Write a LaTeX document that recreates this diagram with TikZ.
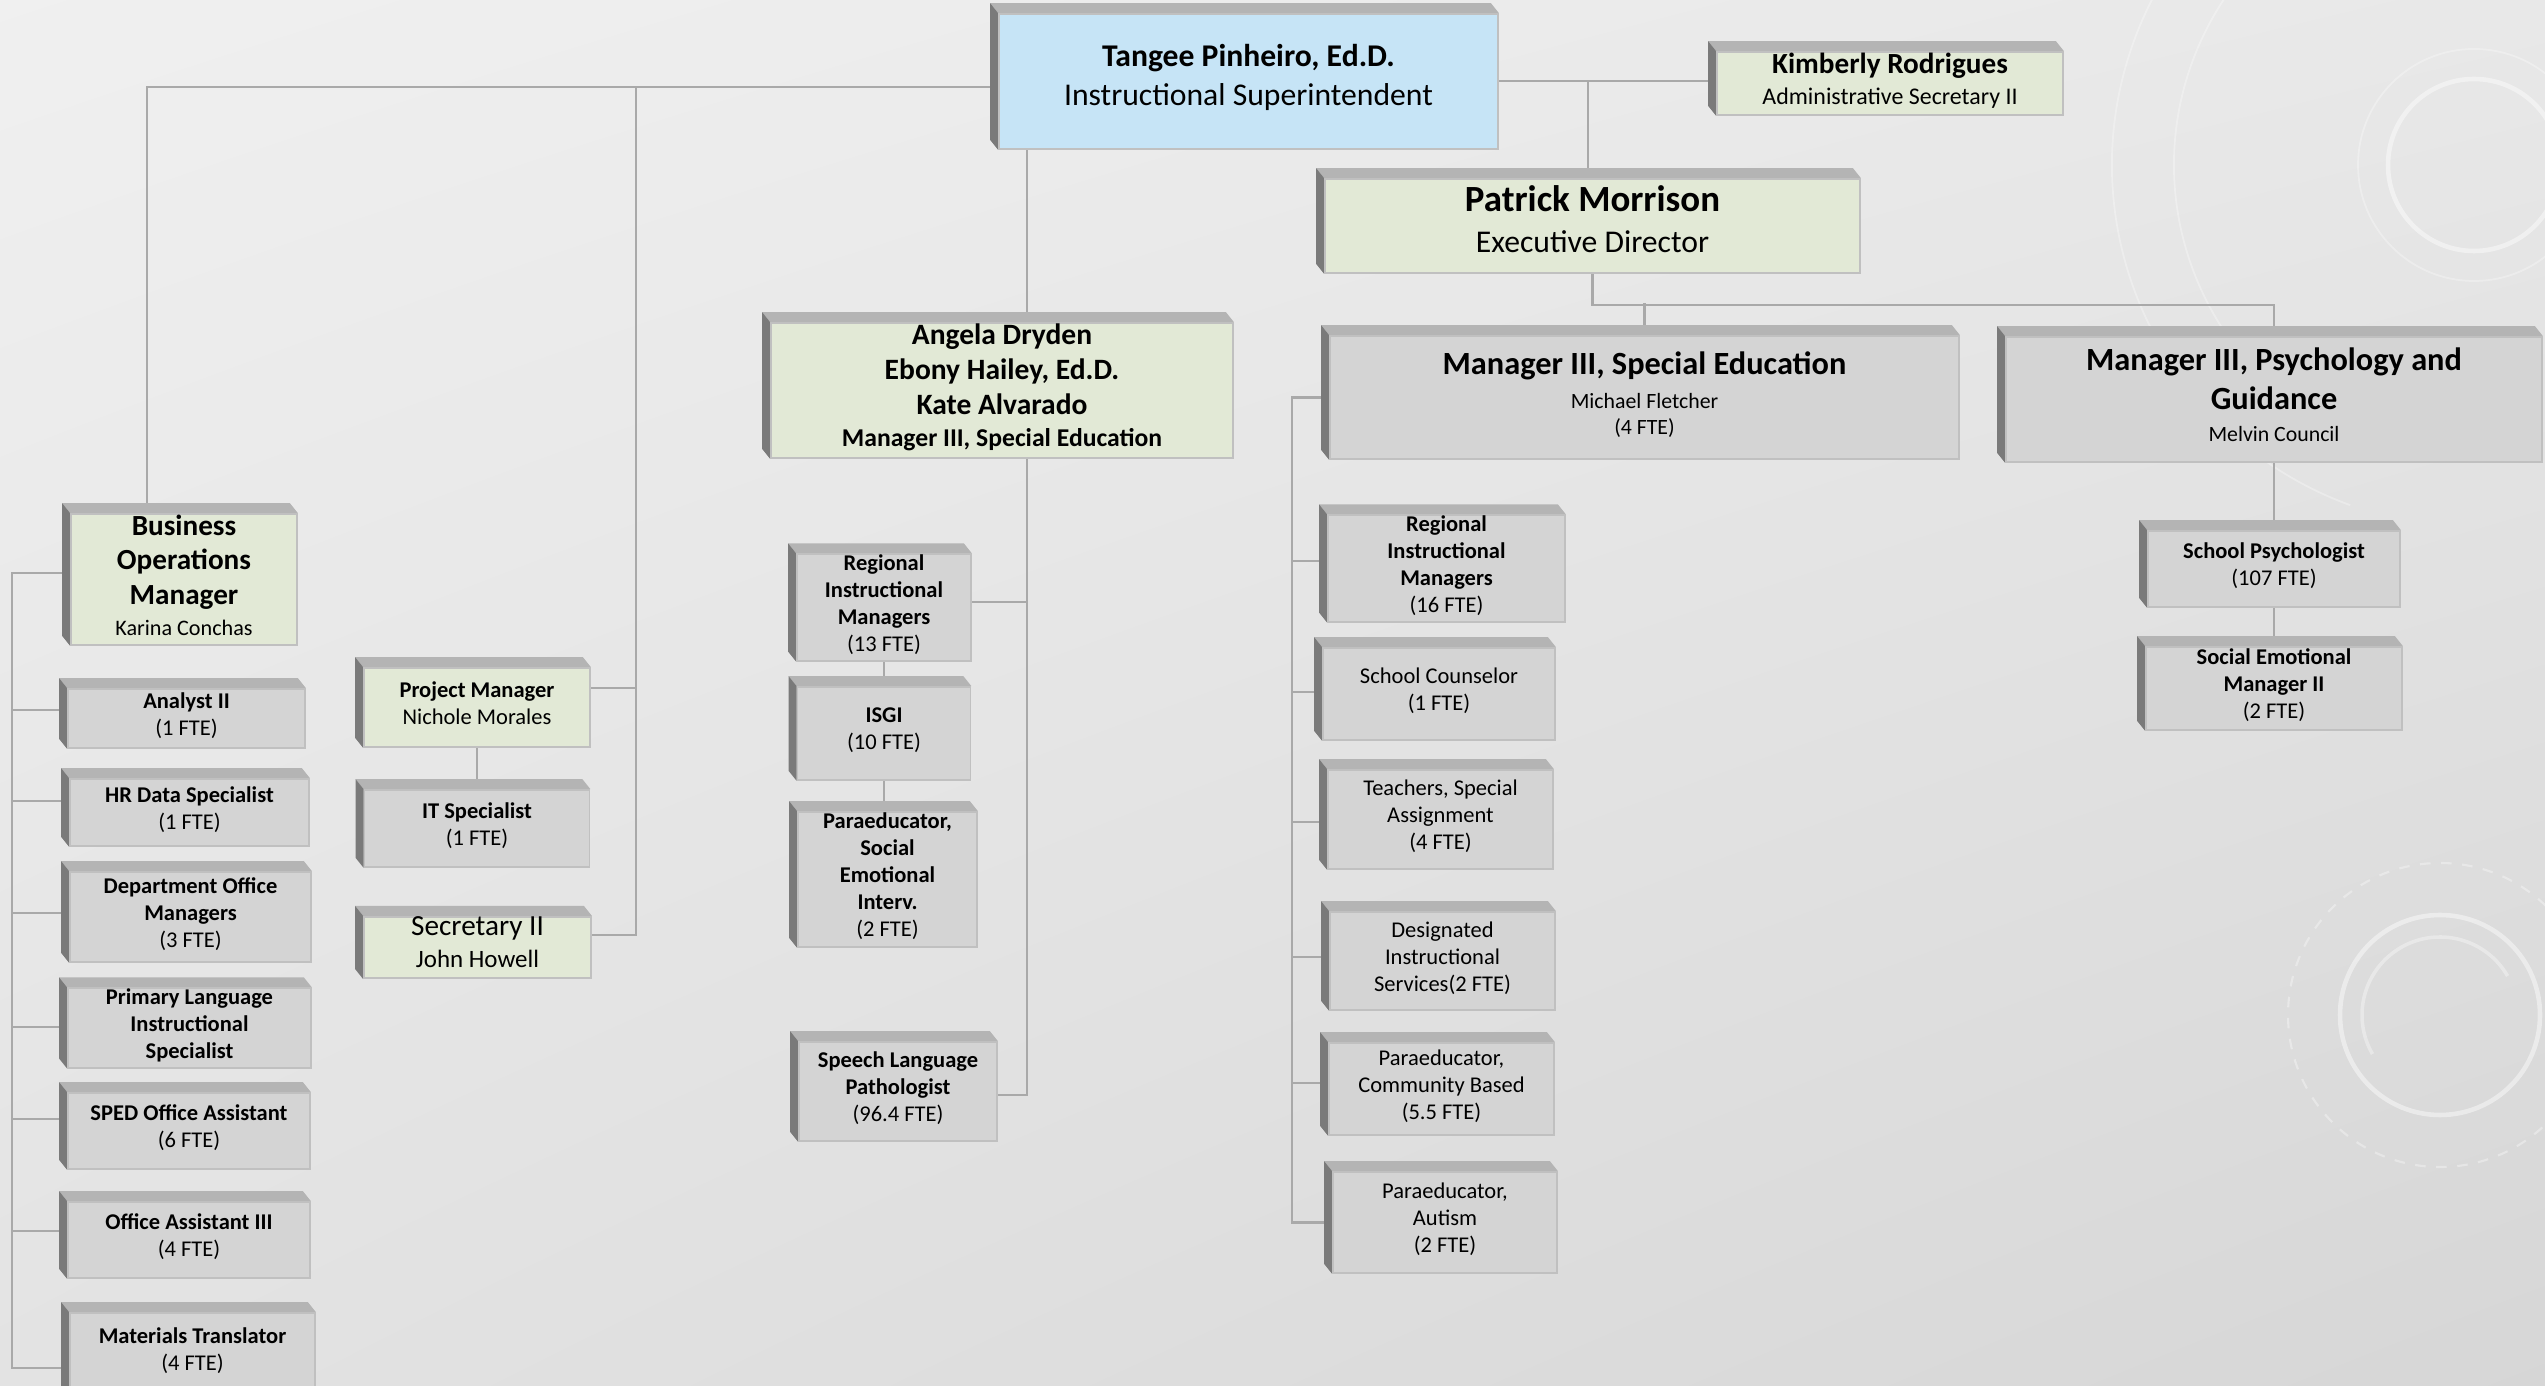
\documentclass[tikz,border=0pt]{standalone}
\usepackage{fontspec}
\setmainfont{Carlito}
\usetikzlibrary{positioning,shadings}

\definecolor{bluefront}{HTML}{C6E4F6}
\definecolor{greenfront}{HTML}{E2E9D6}
\definecolor{grayfront}{HTML}{D4D4D4}
\definecolor{frontline}{HTML}{C0C0C0}
\definecolor{topface}{HTML}{B4B4B4}
\definecolor{sideface}{HTML}{7A7A7A}
\definecolor{linkgray}{HTML}{A9A9A9}

\pgfdeclarelayer{bg}
\pgfdeclarelayer{background}
\pgfsetlayers{bg,background,main}

% header lines of the manager boxes
\newcommand{\hd}[1]{{\fontsize{9.2}{11}\selectfont\bfseries #1}}
\newcommand{\nmb}[1]{{\fontsize{8.4}{10}\selectfont\bfseries #1}}
\newcommand{\bob}[1]{{\fontsize{8.3}{9.8}\selectfont\bfseries #1}}

\tikzset{
  orgbox/.style={draw=frontline, line width=0.5pt, inner sep=0pt, align=center,
    execute at end node={\vrule width 0pt depth 0.42em\relax}},
  bluebox/.style={orgbox, fill=bluefront},
  greenbox/.style={orgbox, fill=greenfront},
  graybox/.style={orgbox, fill=grayfront},
  boxsize/.style 2 args={minimum width=#1*0.01cm, minimum height=#2*0.01cm},
  smalltext/.style={font=\fontsize{6.4}{7.7}\selectfont},
  link/.style={draw=linkgray, line width=0.6pt}
}

\begin{document}
\begin{tikzpicture}[x=0.01cm, y=-0.01cm]
\useasboundingbox (0,0) rectangle (2545,1386);

\begin{pgfonlayer}{bg}
\shade[upper left=black!6, upper right=black!9, lower left=black!11, lower right=black!16] (0,0) rectangle (2545,1386);
% faint rings on the right
\draw[white, opacity=.45, line width=1.3pt] (2474,165) circle[radius=86];
\draw[white, opacity=.3, line width=0.5pt] (2474,165) circle[radius=116];
\draw[white, opacity=.3, line width=0.5pt] (2474,165) ++(115:300) arc[start angle=115, end angle=245, radius=300];
\draw[white, opacity=.3, line width=0.5pt] (2474,165) ++(110:362) arc[start angle=110, end angle=250, radius=362];
\draw[white, opacity=.45, line width=1.3pt] (2440,1015) circle[radius=100];
\draw[white, opacity=.35, line width=1pt] (2440,1015) ++(150:78) arc[start angle=150, end angle=330, radius=78];
\draw[white, opacity=.35, line width=0.6pt, dashed] (2440,1015) circle[radius=152];
\end{pgfonlayer}

% top level
\node[bluebox, boxsize={499}{135}, font=\fontsize{9}{11.1}\selectfont] (tangee) at (1248.5,81.5)
  {\textbf{Tangee Pinheiro, Ed.D.}\\Instructional Superintendent};
\node[greenbox, boxsize={346}{63}, font=\fontsize{6.8}{8.8}\selectfont] (kim) at (1890,83.5)
  {{\fontsize{8.3}{8.8}\selectfont\bfseries Kimberly Rodrigues}\\Administrative Secretary II};
\node[greenbox, boxsize={535}{94}, font=\fontsize{9}{11.6}\selectfont] (patrick) at (1592.5,226)
  {{\fontsize{10.5}{11.6}\selectfont\bfseries Patrick Morrison}\\Executive Director};

% managers
\node[graybox, boxsize={629}{123}, font=\fontsize{6.2}{7.4}\selectfont] (mgrse) at (1644.5,397.5)
  {\hd{Manager III, Special Education}\\[2.3pt]Michael Fletcher\\(4 FTE)};
\node[graybox, boxsize={536}{125}, font=\fontsize{6.2}{9.2}\selectfont] (mgrpsy) at (2274,399.5)
  {\hd{Manager III, Psychology and}\\[1.9pt]\hd{Guidance}\\Melvin Council};
\node[greenbox, boxsize={462}{135}, font=\fontsize{7.3}{9.1}\selectfont] (angela) at (1002,390.5)
  {\nmb{Angela Dryden}\\[0.9pt]\nmb{Ebony Hailey, Ed.D.}\\[0.9pt]\nmb{Kate Alvarado}\\\textbf{Manager III, Special Education}};
\node[greenbox, boxsize={226}{131}, font=\fontsize{6.3}{8.8}\selectfont] (bom) at (184,579.5)
  {\bob{Business}\\[1pt]\bob{Operations}\\[1pt]\bob{Manager}\\Karina Conchas};

% business operations staff
\node[graybox, smalltext, boxsize={237}{59}] (analyst) at (186.5,718.5) {\textbf{Analyst II}\\(1 FTE)};
\node[graybox, smalltext, boxsize={239}{67}] (hrdata) at (189.5,812.5) {\textbf{HR Data Specialist}\\(1 FTE)};
\node[graybox, smalltext, boxsize={241}{90}] (deptoff) at (190.5,917) {\textbf{Department Office}\\\textbf{Managers}\\(3 FTE)};
\node[graybox, smalltext, boxsize={243}{78}] (primlang) at (189.5,1028) {\textbf{Primary Language}\\\textbf{Instructional}\\\textbf{Specialist}};
\node[graybox, smalltext, boxsize={242}{76}] (sped) at (189,1131) {\textbf{SPED Office Assistant}\\(6 FTE)};
\node[graybox, smalltext, boxsize={242}{76}] (offasst) at (189,1240) {\textbf{Office Assistant III}\\(4 FTE)};
\node[graybox, smalltext, boxsize={245}{82}] (matl) at (192.5,1354) {\textbf{Materials Translator}\\(4 FTE)};

\node[greenbox, smalltext, boxsize={226}{79}] (projmgr) at (477,707.5) {\textbf{Project Manager}\\Nichole Morales};
\node[graybox, smalltext, boxsize={225}{77}] (itspec) at (477,828.5) {\textbf{IT Specialist}\\(1 FTE)};
\node[greenbox, boxsize={227}{61}, font=\fontsize{7.1}{9.1}\selectfont] (sec2) at (477.5,947.5)
  {{\fontsize{8.3}{9.1}\selectfont Secretary II}\\John Howell};

% under the three managers
\node[graybox, smalltext, boxsize={174}{101}] (reg13) at (884,607.5) {\textbf{Regional}\\\textbf{Instructional}\\\textbf{Managers}\\(13 FTE)};
\node[graybox, smalltext, boxsize={173}{93}] (isgi) at (884,733.5) {\textbf{ISGI}\\(10 FTE)};
\node[graybox, smalltext, boxsize={179}{135}] (parase) at (887.5,879.5) {\textbf{Paraeducator,}\\\textbf{Social}\\\textbf{Emotional}\\\textbf{Interv.}\\(2 FTE)};
\node[graybox, smalltext, boxsize={198}{99}] (speech) at (898,1091.5) {\textbf{Speech Language}\\\textbf{Pathologist}\\(96.4 FTE)};

% special education staff
\node[graybox, smalltext, boxsize={237}{95}] (reg16) at (1446.5,568.5) {\textbf{Regional}\\\textbf{Instructional}\\\textbf{Managers}\\(16 FTE)};
\node[graybox, smalltext, boxsize={232}{92}] (counsel) at (1439,694) {School Counselor\\(1 FTE)};
\node[graybox, smalltext, boxsize={225}{99}] (teach) at (1440.5,819.5) {Teachers, Special\\Assignment\\(4 FTE)};
\node[graybox, smalltext, boxsize={225}{98}] (desig) at (1442.5,961) {Designated\\Instructional\\Services(2 FTE)};
\node[graybox, smalltext, boxsize={225}{92}] (paracb) at (1441.5,1089) {Paraeducator,\\Community Based\\(5.5 FTE)};
\node[graybox, smalltext, boxsize={224}{101}] (paraaut) at (1445,1222.5) {Paraeducator,\\Autism\\(2 FTE)};

% psychology and guidance staff
\node[graybox, smalltext, boxsize={252}{76}] (schpsy) at (2274,569) {\textbf{School Psychologist}\\(107 FTE)};
\node[graybox, smalltext, boxsize={256}{83}] (socemo) at (2274,688.5) {\textbf{Social Emotional}\\\textbf{Manager II}\\(2 FTE)};

\begin{pgfonlayer}{background}
\coordinate (bobus) at (12,573);
\coordinate (bolink) at (147,87);
\coordinate (pmbus) at (636,935);
\coordinate (trunk) at (1027,0);
\coordinate (sebus) at (1292,0);
\coordinate (kimlink) at (1588,81);

% connectors
\draw[link] (tangee.west |- bolink) -- (bolink) -- (bolink |- bom.north);
\draw[link] (pmbus |- bolink) -- (pmbus) -- (pmbus -| sec2.east);
\draw[link] (projmgr.east |- 0,688) -- (pmbus |- 0,688);
\draw[link] (projmgr) -- (itspec);
\draw[link] (bom.west |- bobus) -- (bobus) -- (bobus |- 0,1368) -- (matl.west |- 0,1368);
\foreach \n/\y in {analyst/710,hrdata/801,deptoff/913,primlang/1027,sped/1119,offasst/1231}
  \draw[link] (\n.west |- 0,\y) -- (bobus |- 0,\y);
\draw[link] (tangee.south -| trunk) -- (trunk |- 0,1095) -- (speech.east |- 0,1095);
\draw[link] (reg13.east |- 0,602) -- (trunk |- 0,602);
\draw[link] (reg13) -- (isgi);
\draw[link] (isgi.south) -- (isgi.south |- parase.north);
\draw[link] (tangee.east |- kimlink) -- (kim.west |- kimlink);
\draw[link] (kimlink) -- (kimlink |- patrick.north);
\draw[link] (patrick.south) -- ++(0,31) -| (mgrpsy.north);
\draw[link] (mgrse.north) -- ++(0,-32);
\draw[link] (mgrse.west) -| (sebus |- paraaut.west) -- (paraaut.west);
\foreach \n/\y in {reg16/561,counsel/692,teach/822,desig/957,paracb/1083}
  \draw[link] (\n.west |- 0,\y) -- (sebus |- 0,\y);
\draw[link] (mgrpsy) -- (schpsy) -- (socemo);

% bevels
\foreach \n in {tangee,kim,patrick,mgrse,mgrpsy,angela,bom,analyst,hrdata,deptoff,primlang,sped,offasst,matl,
  projmgr,itspec,sec2,reg13,isgi,parase,speech,reg16,counsel,teach,desig,paracb,paraaut,schpsy,socemo}{
  \fill[topface] (\n.north west) -- (\n.north east) -- ++(-8,-10) -- ([shift={(-8,-10)}]\n.north west) -- cycle;
  \fill[sideface] (\n.north west) -- ([shift={(-8,-10)}]\n.north west) -- ([shift={(-8,-10)}]\n.south west) -- (\n.south west) -- cycle;
}
\end{pgfonlayer}
\end{tikzpicture}
\end{document}
